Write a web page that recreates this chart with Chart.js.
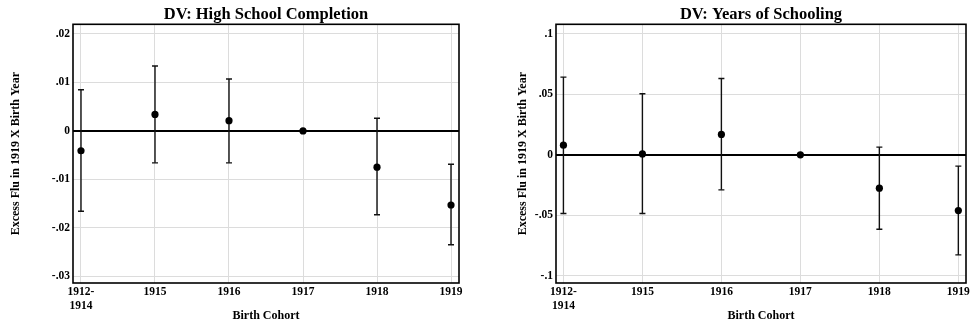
<!DOCTYPE html>
<html>
<head>
<meta charset="utf-8">
<script src="https://cdn.jsdelivr.net/npm/chart.js@4"></script>
<style>
  body { margin: 0; background: #fff; }
  .row { display: flex; width: 972px; height: 327px; }
  .box { position: relative; width: 486px; height: 327px; }
</style>
</head>
<body>
<div class="row">
  <div class="box"><canvas id="chartHS"></canvas></div>
  <div class="box"><canvas id="chartYS"></canvas></div>
</div>
<script>
var cohortLabels = [["1912-", "1914"], "1915", "1916", "1917", "1918", "1919"];

// DV: High School Completion
var hsEstimate = [-0.0041, 0.0034, 0.0021, 0, -0.0075, -0.0153];
var hsUpper = [0.0085, 0.0134, 0.0107, null, 0.0026, -0.0069];
var hsLower = [-0.0166, -0.0066, -0.0066, null, -0.0173, -0.0235];
var hsTicks = [-0.03, -0.02, -0.01, 0, 0.01, 0.02];

// DV: Years of Schooling
var ysEstimate = [0.008, 0.0008, 0.0169, 0, -0.0275, -0.046];
var ysUpper = [0.0642, 0.0504, 0.0631, null, 0.0064, -0.0093];
var ysLower = [-0.0484, -0.0484, -0.0289, null, -0.0614, -0.0826];
var ysTicks = [-0.1, -0.05, 0, 0.05, 0.1];

var serif = "'Liberation Serif', 'Times New Roman', serif";

function fmt(v) {
  var s = (Math.round(v * 1000) / 1000).toString();
  return s.replace(/^(-?)0\./, "$1.");
}

var framePlugin = {
  id: "frame",
  beforeDatasetsDraw: function(chart) {
    var a = chart.chartArea, c = chart.ctx;
    c.save();
    c.strokeStyle = "#000";
    c.lineWidth = 1.6;
    c.strokeRect(a.left, a.top, a.right - a.left, a.bottom - a.top);
    c.restore();
  }
};

function makeChart(id, title, est, up, lo, ticks, o) {
  var datasets = [{
    data: est.map(function(v, i) { return { x: i, y: v }; }),
    showLine: false,
    pointRadius: 3.6,
    pointBackgroundColor: "#000",
    pointBorderColor: "#000",
    pointBorderWidth: 0
  }];
  est.forEach(function(v, i) {
    if (up[i] === null) return;
    datasets.push({
      data: [{ x: i, y: lo[i] }, { x: i, y: up[i] }],
      showLine: true,
      borderColor: "#111",
      borderWidth: 1.4,
      pointStyle: "line",
      pointRadius: 3,
      pointBorderColor: "#111",
      pointBorderWidth: 1.4
    });
  });

  return new Chart(document.getElementById(id), {
    type: "scatter",
    data: { datasets: datasets },
    plugins: [framePlugin],
    options: {
      responsive: true,
      maintainAspectRatio: false,
      animation: false,
      layout: { padding: { right: o.right } },
      plugins: {
        legend: { display: false },
        tooltip: { enabled: false },
        title: {
          display: true,
          text: title,
          fullSize: false,
          color: "#000",
          font: { family: serif, weight: "bold", size: 16.5 },
          padding: { top: 4.5, bottom: o.top - 24.3 }
        }
      },
      scales: {
        x: {
          type: "linear",
          min: o.xmin,
          max: o.xmax,
          afterFit: function(s) { s.height = o.bottom; },
          afterBuildTicks: function(s) {
            s.ticks = cohortLabels.map(function(l, i) { return { value: i }; });
          },
          ticks: {
            autoSkip: false,
            maxRotation: 0,
            padding: 2,
            color: "#000",
            font: { family: serif, weight: "bold", size: 11.5 },
            callback: function(v) { return cohortLabels[v]; }
          },
          grid: { color: "#dcdcdc", lineWidth: 1, drawTicks: false },
          border: { display: false },
          title: {
            display: true,
            text: "Birth Cohort",
            color: "#000",
            font: { family: serif, weight: "bold", size: 12 },
            padding: { top: 0, bottom: 3.8 }
          }
        },
        y: {
          min: o.ymin,
          max: o.ymax,
          afterFit: function(s) { s.width = o.left; },
          afterBuildTicks: function(s) {
            s.ticks = ticks.map(function(v) { return { value: v }; });
          },
          ticks: {
            padding: 3,
            color: "#000",
            font: { family: serif, weight: "bold", size: 11.5 },
            callback: function(v) { return fmt(v); }
          },
          grid: {
            drawTicks: false,
            color: function(c) { return c.tick && Math.abs(c.tick.value) < 1e-9 ? "#000" : "#dcdcdc"; },
            lineWidth: function(c) { return c.tick && Math.abs(c.tick.value) < 1e-9 ? 2 : 1; }
          },
          border: { display: false },
          title: {
            display: true,
            text: "Excess Flu in 1919 X Birth Year",
            color: "#000",
            font: { family: serif, weight: "bold", size: 12 },
            padding: { top: o.ytitle, bottom: 0 }
          }
        }
      }
    }
  });
}

makeChart("chartHS", "DV: High School Completion", hsEstimate, hsUpper, hsLower, hsTicks,
  { left: 73, right: 27, top: 24.3, bottom: 44, xmin: -0.108, xmax: 5.108, ymin: -0.0314, ymax: 0.022, ytitle: 8.5 });
makeChart("chartYS", "DV: Years of Schooling", ysEstimate, ysUpper, ysLower, ysTicks,
  { left: 70, right: 6, top: 24.3, bottom: 44, xmin: -0.094, xmax: 5.097, ymin: -0.1058, ymax: 0.1078, ytitle: 29.5 });
</script>
</body>
</html>
